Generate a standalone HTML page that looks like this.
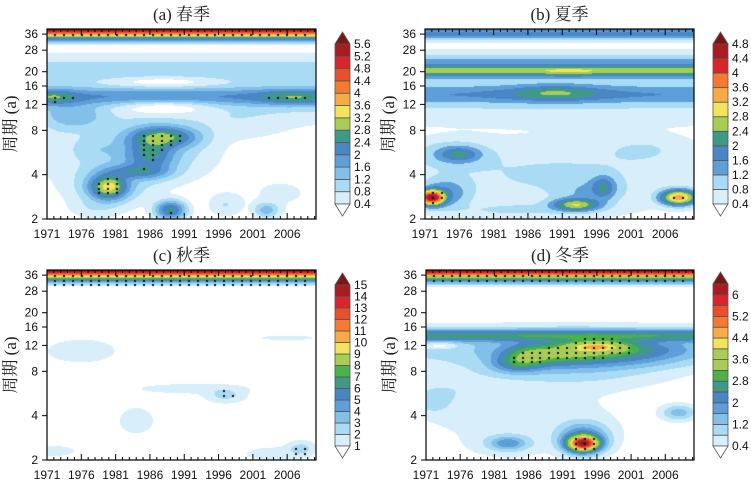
<!DOCTYPE html>
<html><head><meta charset="utf-8">
<style>
body{margin:0;background:#fff;width:751px;height:484px;overflow:hidden;font-family:"Liberation Sans","Noto Sans CJK SC",sans-serif}
#root{position:relative;width:751px;height:484px}
canvas{position:absolute}
</style></head><body>
<div id="root">
<svg id="svg" width="751" height="484" style="position:absolute;left:0;top:0;z-index:2"></svg>
</div>
<script>
// ---- data ----
const titles=["(a) 春季","(b) 夏季","(c) 秋季","(d) 冬季"];
const xTicks=[1971,1976,1981,1986,1991,1996,2001,2006];
const yTicks=[2,4,8,12,16,20,28,36];
const levelsA=[0.4,0.8,1.2,1.6,2,2.4,2.8,3.2,3.6,4,4.4,4.8,5.2,5.6];
const levelsB=[0.4,0.8,1.2,1.6,2,2.4,2.8,3.2,3.6,4,4.4,4.8];
const levelsC=[1,2,3,4,5,6,7,8,9,10,11,12,13,14,15];
const levelsD=[0.4,0.8,1.2,1.6,2,2.4,2.8,3.2,3.6,4,4.4,4.8,5.2,5.6,6,6.4];
// top cone band peak per panel
const topAmp=[5.9,1.8,15.6,6.7];
// horizontal bands: [period, lnSigma, amplitude]
const bandsA=[[20,0.22,1.0],[13.5,0.12,1.8],[13,0.3,0.9]];
const bandsB=[[36,0.08,1.7],[23.5,0.06,0.9],[20.3,0.07,2.4],[20.5,0.22,1.3],[14,0.13,1.5],[11,0.22,0.7]];
const bandsC=[];
const bandsD=[[14,0.08,2.6],[12,0.25,1.0],[31,0.05,0.5]];
// blobs: [year, period, amplitude, sigmaYear, lnSigma]
const blobsA=[[1972,13.5,2.0,3,0.1],[2007,13.5,2.0,5,0.1],[1988,17,-0.8,6,0.06],[1988,11.5,-1.0,5,0.08],[1988,7.2,2.7,4,0.14],[1980,3.3,3.2,2.3,0.16],[1986,5.5,2.2,3,0.25],[1984,4.2,2.0,4,0.1],[1989,2.3,2.5,1.8,0.12],[1986,6,1.3,7,0.4],[1980,3.5,1.2,5,0.3],[1972,6,0.6,4,0.4],[2005,3,0.45,6,0.3],[1997,2.5,0.8,2,0.15],[2003,2.3,1.4,1.5,0.1],[1978,6,0.9,3,0.2],[1975,10,1.4,4,0.2],[1999,9,0.6,7,0.25],[1978,2.4,0.7,3,0.15]];
const blobsB=[[1990,14.5,1.6,5,0.09],[1990,14,1.2,9,0.12],[1992,20.3,1.2,3,0.05],[1972,2.8,4.6,1.6,0.1],[1974,3,1.5,3,0.2],[1993,2.5,2.7,2.8,0.08],[1997,3.3,1.8,1.5,0.15],[1995,3,1.1,4,0.2],[2008,2.8,3.4,2.2,0.1],[1976,5.5,1.8,2.5,0.1],[1975,5.5,1.1,5,0.2],[2003,6,0.7,6,0.2],[1985,2.3,0.8,10,0.1],[1990,4,0.85,20,0.5]];
const blobsC=[[1976,11,1.6,5,0.18],[2006,13.5,1.3,5,0.05],[1997,5.5,2.3,2.5,0.1],[1992,6.1,1.5,8,0.08],[1984,3.7,1.6,2.5,0.2],[1972,2.3,1.6,3,0.08],[2004,2.2,1.6,4,0.1],[2008,2.4,2.4,1.8,0.1]];
const blobsD=[[1996,11.8,3.6,4,0.08],[1998,11,2.6,9,0.15],[1990,10.5,2.5,6,0.15],[1986,10,2.3,3,0.15],[1984,9,2.0,3,0.12],[1992,9.5,1.4,12,0.3],[1973,12,-0.8,2,0.04],[1994,2.6,6.2,1.8,0.1],[1994,2.8,2.2,3,0.2],[1983,2.6,1.7,2,0.08],[1983,2.6,1.0,4,0.15],[1972,5,1.0,2,0.15],[2008,4.2,1.4,2,0.1],[1985,4,0.55,15,0.5],[1975,6,0.7,6,0.3],[2000,9,0.7,8,0.1]];
const sigThr=[2.4,2.85,2.0,2.9];
const topDots=[[36],[],[36,33.5,31.5],[36,33.5]];

const panels=[
 {x:47,y:29,w:269,h:190,cb:[335,32,216],levels:levelsA,bands:bandsA,blobs:blobsA,lab:1},
 {x:425,y:29,w:269,h:190,cb:[713,32,216],levels:levelsB,bands:bandsB,blobs:blobsB,lab:1},
 {x:47,y:270,w:269,h:190,cb:[335,273,458],levels:levelsC,bands:bandsC,blobs:blobsC,lab:1},
 {x:426,y:270,w:268,h:190,cb:[713,272,458],levels:levelsD,bands:bandsD,blobs:blobsD,lab:2}
];
const ramp=["#d8eefa","#a9dbf4","#82c0ea","#5f9fd9","#4a86c4","#3e9a86","#4bb24a","#a9cc54","#f2e45c","#f7ab44","#f37a30","#e8502c","#d8242a","#a91c22"];
const topCol="#7f1416";
const Y0=1971,Y1=2010.2,LP0=Math.log(2),LP1=Math.log(39);
const svg=document.getElementById('svg');
const NS="http://www.w3.org/2000/svg";
function mk(tag,attrs,parent){const e=document.createElementNS(NS,tag);for(const k in attrs)e.setAttribute(k,attrs[k]);(parent||svg).appendChild(e);return e;}
function boxColor(i,n){return ramp[Math.round(i*(ramp.length-1)/Math.max(1,n-1))];}

panels.forEach((P,pi)=>{
 const xs=yr=>P.x+(yr-Y0)/(Y1-Y0)*P.w;
 const ys=p=>P.y+P.h-(Math.log(p)-LP0)/(LP1-LP0)*P.h;
 function field(yr,p){
  const lp=Math.log(p);let s=0,neg=0,top=0;
  const t=(lp-Math.log(29))/(Math.log(38.5)-Math.log(29));
  if(t>0)top=topAmp[pi]*Math.pow(Math.min(1,t),1.4);
  P.bands.forEach(b=>{const d=(lp-Math.log(b[0]))/b[1];const c=b[2]*Math.exp(-0.5*d*d);s+=c*c;});
  P.blobs.forEach(b=>{const dx=(yr-b[0])/b[3],dy=(lp-Math.log(b[1]))/b[4];const c=b[2]*Math.exp(-0.5*(dx*dx+dy*dy));if(b[2]<0)neg+=c;else s+=c*c;});
  return Math.max(top,Math.sqrt(s)+neg);
 }
 const L=P.levels,nb=L.length-1;
 function colorOf(v){if(v<L[0])return null;if(v>=L[L.length-1])return topCol;for(let i=0;i<nb;i++)if(v<L[i+1])return boxColor(i,nb);return topCol;}
 const cv=document.createElement('canvas');cv.width=P.w;cv.height=P.h;cv.style.left=P.x+'px';cv.style.top=P.y+'px';
 
 
 document.getElementById('root').appendChild(cv);
 const ctx=cv.getContext('2d');ctx.fillStyle="#fff";ctx.fillRect(0,0,P.w,P.h);
 for(let py=0;py<P.h;py++)for(let px=0;px<P.w;px++){
  const yr=Y0+(px+0.5)/P.w*(Y1-Y0);const p=Math.exp(LP0+(P.h-py-0.5)/P.h*(LP1-LP0));
  const c=colorOf(field(yr,p));if(c){ctx.fillStyle=c;ctx.fillRect(px,py,1,1);}
 }
 // significance dots
 ctx.fillStyle="#111";
 for(let yr=1972;yr<=2009.5;yr+=1.3){
  for(let lp=LP0+0.04;lp<Math.log(28);lp+=0.075){if(field(yr,Math.exp(lp))>sigThr[pi])
   ctx.fillRect(Math.round((yr-Y0)/(Y1-Y0)*P.w),Math.round(P.h-(lp-LP0)/(LP1-LP0)*P.h),2,2);}
  topDots[pi].forEach(p=>{ctx.fillRect(Math.round((yr-Y0)/(Y1-Y0)*P.w),Math.round(P.h-(Math.log(p)-LP0)/(LP1-LP0)*P.h),2,2);});
 }
 // frame
 const g=mk('g',{});
 
 mk('rect',{x:P.x,y:P.y,width:P.w,height:P.h,fill:'none',stroke:'#000','stroke-width':1.2},g);
 for(let yr=1971;yr<=2010;yr++){const x=xs(yr),len=(yr-1971)%5==0?6:3;
  mk('line',{x1:x,y1:P.y+P.h,x2:x,y2:P.y+P.h-len,stroke:'#000','stroke-width':1},g);
  mk('line',{x1:x,y1:P.y,x2:x,y2:P.y+len,stroke:'#000','stroke-width':1},g);}
 xTicks.forEach(yr=>{const t=mk('text',{x:xs(yr),y:P.y+P.h+19,'text-anchor':'middle','font-size':12,fill:'#111','font-family':'Liberation Sans, sans-serif'});t.textContent=yr;
  });
 yTicks.forEach(p=>{const y=ys(p);mk('line',{x1:P.x,y1:y,x2:P.x-5,y2:y,stroke:'#000'},g);
  const t=mk('text',{x:P.x-9,y:y+4,'text-anchor':'end','font-size':12,fill:'#111','font-family':'Liberation Sans, sans-serif'});t.textContent=p;
  });
 const yl=mk('text',{x:0,y:0,transform:`translate(${P.x-31},${P.y+P.h/2}) rotate(-90)`,'text-anchor':'middle','font-size':17,fill:'#222','font-family':'Liberation Serif, Noto Serif CJK SC, serif'});
 yl.textContent='周期 (a)';
 const tt=mk('text',{x:P.x+P.w/2,y:P.y-9,'text-anchor':'middle','font-size':17,fill:'#222','font-family':'Liberation Serif, Noto Serif CJK SC, serif'});
 tt.textContent=titles[pi];
 // colorbar
 const [cx,ct,cbm]=P.cb,cw=15,tri=12;const bh=(cbm-ct-2*tri)/nb;
 const cb=mk('g',{});
 mk('polygon',{points:`${cx},${ct+tri} ${cx+cw},${ct+tri} ${cx+cw/2},${ct}`,fill:topCol,stroke:'#555','stroke-width':0.8},cb);
 for(let i=0;i<nb;i++){mk('rect',{x:cx,y:cbm-tri-(i+1)*bh,width:cw,height:bh,fill:boxColor(i,nb),stroke:'#555','stroke-width':0.8},cb);}
 mk('polygon',{points:`${cx},${cbm-tri} ${cx+cw},${cbm-tri} ${cx+cw/2},${cbm}`,fill:'#fff',stroke:'#555','stroke-width':0.8},cb);
 L.forEach((lv,i)=>{if(P.lab==2&&i%2==1)return;const t=mk('text',{x:cx+cw+4,y:cbm-tri-i*bh+4,'font-size':12,fill:'#111','font-family':'Liberation Sans, sans-serif'},cb);t.textContent=lv;
  });
});
</script>
</body></html>
